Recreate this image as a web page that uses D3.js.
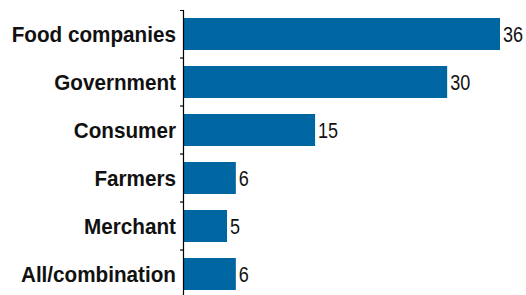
<!DOCTYPE html>
<html>
<head>
<meta charset="utf-8">
<script src="https://cdn.jsdelivr.net/npm/d3@7"></script>
<style>
  body { margin: 0; background: #fff; }
  svg text { font-family: "Liberation Sans", Arial, sans-serif; }
</style>
</head>
<body>
<div id="chart"></div>
<script>
// categories and values
var categories = ["Food companies", "Government", "Consumer", "Farmers", "Merchant", "All/combination"];
var values = [36, 30, 15, 6, 5, 6];

var width = 526;
var height = 295;
var axisX = 183;

var svg = d3.select("#chart")
  .append("svg")
    .attr("width", width)
    .attr("height", height);

var data = categories.map(function(c, i) { return {name: c, value: values[i]}; });

var y = d3.scaleBand()
  .domain(categories)
  .range([10, 298])
  .paddingInner(1/3)
  .paddingOuter(1/6);

var x = d3.scaleLinear()
  .domain([0, 36])
  .range([axisX, 500]);

// bars
svg.selectAll("rect.bar")
  .data(data).enter()
  .append("rect")
    .attr("class", "bar")
    .attr("x", x(0))
    .attr("y", function(d) { return y(d.name); })
    .attr("width", function(d) { return x(d.value) - x(0); })
    .attr("height", y.bandwidth())
    .style("fill", "#0066a2");

// axis line (no category ticks, outer tick at top)
svg.append("g")
  .attr("transform", "translate(" + axisX + ",0)")
  .call(d3.axisLeft(y).tickSize(0).tickSizeOuter(3).tickFormat(""))
  .call(function(g) { g.select(".domain").attr("stroke", "#000").attr("stroke-width", 1.2); });

// ticks between categories
var gap = y.step() * y.paddingInner() / 2;
svg.selectAll("line.sep")
  .data(categories.slice(1)).enter()
  .append("line")
    .attr("class", "sep")
    .attr("x1", axisX - 3)
    .attr("x2", axisX)
    .attr("y1", function(d) { return y(d) - gap; })
    .attr("y2", function(d) { return y(d) - gap; })
    .style("stroke", "#000")
    .style("stroke-width", 1.2);

// category labels (squeezed a bit, the original font is condensed)
svg.selectAll("text.cat")
  .data(data).enter()
  .append("text")
    .attr("class", "cat")
    .attr("transform", function(d) {
      return "translate(176," + (y(d.name) + y.bandwidth() / 2) + ") scale(0.94,1)";
    })
    .attr("dy", "0.36em")
    .style("text-anchor", "end")
    .style("font-weight", "bold")
    .style("font-size", "22px")
    .style("fill", "#111")
    .text(function(d) { return d.name; });

// value labels
svg.selectAll("text.val")
  .data(data).enter()
  .append("text")
    .attr("class", "val")
    .attr("transform", function(d) {
      return "translate(" + (x(d.value) + 3) + "," + (y(d.name) + y.bandwidth() / 2) + ") scale(0.82,1)";
    })
    .attr("dy", "0.36em")
    .style("font-size", "22px")
    .style("fill", "#111")
    .text(function(d) { return d.value; });
</script>
</body>
</html>
